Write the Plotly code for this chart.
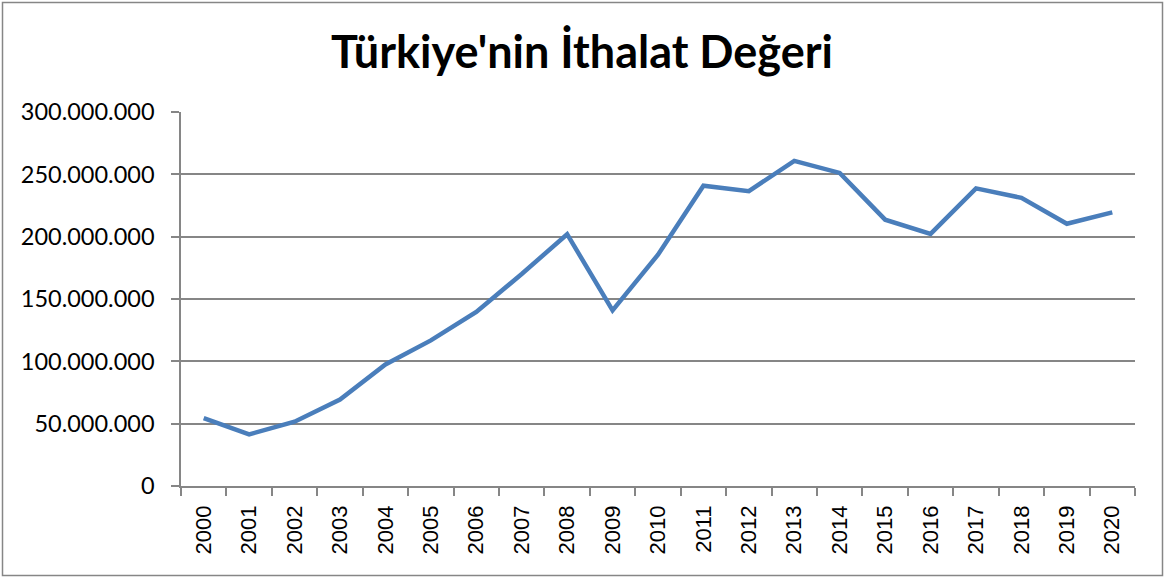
import plotly.graph_objects as go

years = [str(y) for y in range(2000, 2021)]
imports = [54503041, 41399083, 51553797, 69339692, 97539766, 116774151, 139576174,
           170062715, 201963574, 140928421, 185544332, 240841676, 236545141,
           260822822, 251142423, 213619150, 202189242, 238715128, 231152482,
           210345203, 219516798]
title_text = "Türkiye'nin İthalat Değeri"
y_ticks = [0, 50000000, 100000000, 150000000, 200000000, 250000000, 300000000]

W, H = 1167, 579
L, R, T, B = 181, 32, 112, 93
pw, ph = W - L - R, H - T - B

def px_x(p):
    return (p - L) / pw

def px_y(p):
    return (H - B - p) / ph

fig = go.Figure()
fig.add_trace(go.Scatter(x=years, y=imports, mode="lines",
                         line=dict(color="#4A7EBB", width=4.5), hoverinfo="x+y"))

fig.update_layout(
    width=W, height=H,
    margin=dict(l=L, r=R, t=T, b=B, autoexpand=False),
    paper_bgcolor="white", plot_bgcolor="white",
    separators=",.",
    showlegend=False,
    title=dict(text="<b>" + title_text + "</b>", x=(582) / W, xanchor="center",
               y=1 - 52 / H, yanchor="middle", yref="container",
               font=dict(family="Lato", size=45, color="black")),
    xaxis=dict(type="category", showgrid=False, showline=True, linecolor="#868686",
               linewidth=1.5, ticks="outside", ticklen=8, tickcolor="#868686",
               tickwidth=1.5,
               tickson="boundaries", tickangle=-90, automargin=False,
               ticklabelstandoff=9,
               tickfont=dict(family="Liberation Sans", size=22, color="black"),
               range=[-0.5, 20.5]),
    yaxis=dict(range=[0, 300000000], tickvals=y_ticks, tickformat=",d",
               showgrid=True, gridcolor="#868686", gridwidth=1.5,
               showline=True, linecolor="#868686", linewidth=1.5,
               ticks="outside", ticklen=8, tickcolor="#868686", tickwidth=1.5,
               zeroline=False, automargin=False, ticklabelstandoff=12,
               tickfont=dict(family="Lato", size=23.5, color="black")),
    shapes=[dict(type="rect", xref="paper", yref="paper",
                 x0=px_x(2.5), x1=px_x(1162.5), y0=px_y(575.5), y1=px_y(2.5),
                 line=dict(color="#868686", width=1.5), layer="below")],
)

fig.write_html("out.html", config={"displayModeBar": False},
               post_script="document.body.style.margin='0';document.body.style.overflow='hidden';")
